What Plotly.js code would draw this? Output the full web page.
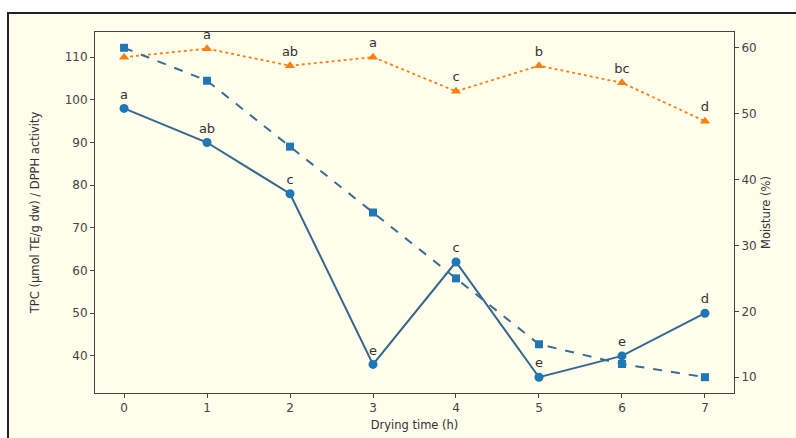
<!DOCTYPE html>
<html><head><meta charset="utf-8">
<script src="https://cdn.plot.ly/plotly-3.0.1.min.js"></script>
<style>
html,body{margin:0;padding:0;background:#fff;}
#bg{position:absolute;left:7px;top:12px;width:789px;height:426px;background:#fffdec;border-left:2px solid #222;border-top:2px solid #222;box-sizing:border-box;}
#chart{position:absolute;left:0;top:0;width:796px;height:438px;}
</style></head>
<body>
<div id="bg"></div>
<div id="chart"></div>
<script>
const dryingTime = [0,1,2,3,4,5,6,7];
const tpc = [98,90,78,38,62,35,40,50];
const tpcLetters = ['a','ab','c','e','c','e','e','d'];
const dpph = [110,112,108,110,102,108,104,95];
const dpphLetters = ['','a','ab','a','c','b','bc','d'];
const moisture = [60,55,45,35,25,15,12,10];

const tickF = {family:'DejaVu Sans', size:12, color:'#444'};
const titleF = {family:'DejaVu Sans', size:11.5, color:'#333'};
const letterF = {family:'DejaVu Sans', size:13, color:'#333'};
const traces = [
 {x:dryingTime, y:dpph, mode:'lines+markers+text', text:dpphLetters, textposition:'top center',
  textfont:letterF, line:{color:'#ff7f0e', width:1.8, dash:'dot'},
  marker:{symbol:'triangle-up', size:9, color:'#ff7f0e'}, yaxis:'y', cliponaxis:false},
 {x:dryingTime, y:moisture, mode:'lines+markers', line:{color:'#3a6d93', width:2, dash:'dash'},
  marker:{symbol:'square', size:8, color:'#1f77b4'}, yaxis:'y2'},
 {x:dryingTime, y:tpc, mode:'lines+markers+text', text:tpcLetters, textposition:'top center',
  textfont:letterF, line:{color:'#36678c', width:2},
  marker:{symbol:'circle', size:9, color:'#1f77b4'}, yaxis:'y', cliponaxis:false}
];
const ax = {showline:true, linecolor:'#444', linewidth:1, ticks:'outside', ticklen:4, tickcolor:'#444',
  showgrid:false, zeroline:false, tickfont:tickF};
const layout = {
 width:796, height:438, margin:{l:95, r:62, t:32, b:45},
 paper_bgcolor:'rgba(0,0,0,0)', plot_bgcolor:'#fffdec', showlegend:false,
 font:tickF,
 xaxis:Object.assign({}, ax, {range:[-0.35,7.35], tickvals:dryingTime, mirror:true,
   title:{text:'Drying time (h)', font:titleF, standoff:6}}),
 yaxis:Object.assign({}, ax, {range:[31.3,115.9], tickvals:[40,50,60,70,80,90,100,110],
   title:{text:'TPC (µmol TE/g dw) / DPPH activity', font:titleF, standoff:22}}),
 yaxis2:Object.assign({}, ax, {range:[7.6,62.4], tickvals:[10,20,30,40,50,60], overlaying:'y', side:'right',
   title:{text:'Moisture (%)', font:titleF, standoff:6}})
};
Plotly.newPlot('chart', traces, layout, {displayModeBar:false, staticPlot:true});
</script>
</body></html>
